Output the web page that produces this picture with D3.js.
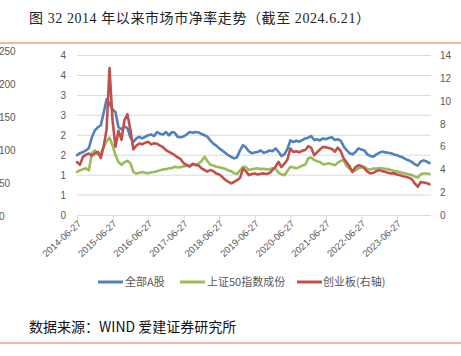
<!DOCTYPE html>
<html><head><meta charset="utf-8">
<script src="https://cdn.jsdelivr.net/npm/d3@7"></script>
<style>
html,body{margin:0;padding:0;background:#fff;}
svg{display:block;}
</style></head>
<body>
<svg id="c" width="461" height="356"></svg>
<script>
// ---- data (monthly readings, starting 2014-06-27) ----
const startDate = "2014-06-27";
const endDate = "2024-06-21";
const xTickLabels = ["2014-06-27","2015-06-27","2016-06-27","2017-06-27","2018-06-27","2019-06-27","2020-06-27","2021-06-27","2022-06-27","2023-06-27"];
const seriesNames = ["全部A股","上证50指数成份","创业板(右轴)"];
const allA = [1.50,1.55,1.58,1.62,1.68,1.95,2.12,2.20,2.25,2.55,2.90,2.80,2.65,2.58,2.20,2.15,2.22,2.18,1.95,1.83,
  1.92,1.96,1.92,1.96,2.00,2.02,1.98,2.08,2.04,2.02,2.08,2.00,2.08,2.06,1.96,1.95,1.97,2.02,2.08,2.06,
  2.08,2.07,2.03,2.00,1.96,1.87,1.79,1.74,1.67,1.62,1.56,1.50,1.46,1.42,1.45,1.62,1.75,1.70,1.60,1.55,
  1.57,1.58,1.62,1.56,1.58,1.62,1.60,1.67,1.58,1.48,1.52,1.65,1.87,1.83,1.86,1.84,1.88,1.92,1.94,1.98,
  1.88,1.90,1.87,1.92,1.90,1.93,1.95,1.88,1.90,1.86,1.72,1.62,1.55,1.52,1.58,1.67,1.64,1.62,1.52,1.48,
  1.46,1.52,1.56,1.59,1.57,1.56,1.55,1.52,1.50,1.47,1.44,1.40,1.37,1.33,1.27,1.24,1.34,1.37,1.34,1.30];
const sse50 = [1.08,1.12,1.15,1.17,1.12,1.55,1.62,1.52,1.55,1.70,1.85,1.94,1.75,1.50,1.33,1.26,1.32,1.36,1.30,1.08,
  1.04,1.06,1.08,1.06,1.05,1.07,1.08,1.10,1.12,1.14,1.15,1.17,1.18,1.21,1.19,1.20,1.22,1.23,1.24,1.26,
  1.25,1.29,1.35,1.46,1.35,1.26,1.24,1.21,1.20,1.18,1.16,1.12,1.10,1.05,1.03,1.12,1.21,1.20,1.13,1.15,
  1.16,1.17,1.15,1.16,1.14,1.15,1.17,1.16,1.06,1.02,1.00,1.10,1.21,1.19,1.17,1.20,1.24,1.26,1.42,1.44,
  1.38,1.35,1.33,1.27,1.28,1.30,1.27,1.25,1.31,1.36,1.37,1.22,1.16,1.08,1.12,1.17,1.19,1.21,1.15,1.14,
  1.17,1.16,1.18,1.17,1.16,1.15,1.13,1.10,1.09,1.08,1.05,1.04,1.02,1.00,0.96,0.94,1.02,1.04,1.04,1.03];
const chinext = [4.65,4.40,5.10,5.30,5.40,5.20,5.40,5.55,5.00,6.00,7.50,12.9,8.30,6.00,7.40,6.60,8.30,8.85,7.50,5.75,
  6.10,6.27,6.20,6.35,6.42,6.20,6.30,6.25,6.10,5.95,5.70,5.54,5.40,5.25,5.05,4.90,4.55,4.40,4.25,4.50,
  4.40,4.35,4.10,3.95,3.80,3.95,3.85,3.65,3.55,3.35,3.10,2.92,2.78,2.90,3.06,3.25,4.08,3.85,3.50,3.60,
  3.65,3.55,3.62,3.65,3.60,3.70,3.95,4.25,4.66,4.20,4.50,4.85,5.83,5.54,5.60,5.50,5.65,5.70,6.04,5.90,
  5.25,5.50,5.75,5.98,5.95,5.88,5.80,5.55,5.92,5.60,4.96,4.60,4.23,3.79,4.20,4.37,4.30,4.10,3.80,3.65,
  3.70,3.85,3.94,3.85,3.80,3.70,3.65,3.66,3.55,3.50,3.40,3.35,3.28,3.15,2.77,2.48,2.90,2.85,2.80,2.70];
const leftTicks = [0,0.5,1,1.5,2,2.5,3,3.5,4];
const rightTicks = [0,2,4,6,8,10,12,14];
const ghostTicks = [0,50,100,150,200,250];
const colors = ["#4F81BD","#9BBB59","#C0504D"];

// ---- drawing ----
const svg = d3.select("#c");
const parse = d3.timeParse("%Y-%m-%d");
const t0 = parse(startDate), t1 = parse(endDate);
const dates = allA.map((_, i) => d3.timeMonth.offset(t0, i));

const x = d3.scaleTime().domain([t0, t1]).range([77, 432]);
const yL = d3.scaleLinear().domain([0, 4]).range([215, 55.5]);
const yR = d3.scaleLinear().domain([0, 14]).range([215, 55.5]);
const yG = d3.scaleLinear().domain([0, 250]).range([216.5, 51.5]);

const axisFont = "'Liberation Sans', Arial, sans-serif";
const cjk = "'Noto Sans CJK SC', sans-serif";
const grey = "#595959";

// header / footer rules
svg.append("line").attr("x1",0).attr("x2",461).attr("y1",43).attr("y2",43)
  .attr("stroke","#EFA27E").attr("stroke-width",1.5);
svg.append("line").attr("x1",0).attr("x2",461).attr("y1",343).attr("y2",343)
  .attr("stroke","#EFA27E").attr("stroke-width",1.5);

svg.append("text").attr("x",29).attr("y",23)
  .attr("font-family","'Liberation Serif', 'Noto Sans CJK SC', serif").attr("font-size",14).attr("fill","#222")
  .attr("textLength",341).attr("lengthAdjust","spacing")
  .text("图 32 2014 年以来市场市净率走势（截至 2024.6.21）");

svg.append("text").attr("x",29).attr("y",331.5)
  .attr("font-family",cjk).attr("font-size",14).attr("fill","#111")
  .text("数据来源：WIND 爱建证券研究所");

// ghost axis on far left
svg.append("g").selectAll("text").data(ghostTicks).join("text")
  .attr("x",-1).attr("y",d=>yG(d)).attr("dy","0.35em")
  .attr("font-family",axisFont).attr("font-size",10).attr("fill",grey)
  .text(d=>d);

// gridlines
svg.append("g").selectAll("line").data(leftTicks.slice(1)).join("line")
  .attr("x1",77).attr("x2",431).attr("y1",d=>yL(d)).attr("y2",d=>yL(d))
  .attr("stroke","#D9D9D9").attr("stroke-width",1);

// left axis
const gL = svg.append("g").attr("transform","translate(69,0)")
  .call(d3.axisLeft(yL).tickValues(leftTicks).tickSize(0).tickPadding(3).tickFormat(d=>Math.round(d)));
gL.select(".domain").remove();
gL.selectAll("text").attr("font-family",axisFont).attr("font-size",10).attr("fill",grey);

// right axis
const gR = svg.append("g").attr("transform","translate(437,0)")
  .call(d3.axisRight(yR).tickValues(rightTicks).tickSize(0).tickPadding(3));
gR.select(".domain").remove();
gR.selectAll("text").attr("font-family",axisFont).attr("font-size",10).attr("fill",grey);

// x axis
const gX = svg.append("g").attr("transform","translate(0,215)")
  .call(d3.axisBottom(x).tickValues(xTickLabels.map(parse)).tickSize(5).tickPadding(4)
    .tickFormat(d3.timeFormat("%Y-%m-%d")));
gX.select(".domain").attr("d","M77,0.5H431").attr("stroke","#D9D9D9");
gX.selectAll(".tick line").attr("stroke","#D9D9D9");
gX.selectAll("text").attr("font-family",axisFont).attr("font-size",9.5).attr("fill",grey)
  .attr("text-anchor","end").attr("dy","0.35em")
  .attr("transform","translate(2,7) rotate(-43)").attr("y",0).attr("x",0);

// series
const lineL = d3.line().x((d,i)=>x(dates[i])).y(d=>yL(d));
const lineR = d3.line().x((d,i)=>x(dates[i])).y(d=>yR(d));
[[allA,lineL,colors[0]],[sse50,lineL,colors[1]],[chinext,lineR,colors[2]]].forEach(([vals,gen,c])=>{
  svg.append("path").attr("d",gen(vals)).attr("fill","none").attr("stroke",c)
    .attr("stroke-width",2.6).attr("stroke-linejoin","round").attr("stroke-linecap","round");
});

// legend
const legX = [[98,125],[180,207],[297,323]];
seriesNames.forEach((n,i)=>{
  svg.append("line").attr("x1",legX[i][0]).attr("x2",legX[i][0]+25).attr("y1",282).attr("y2",282)
    .attr("stroke",colors[i]).attr("stroke-width",3);
  svg.append("text").attr("x",legX[i][1]).attr("y",282).attr("dy","0.36em")
    .attr("font-family",cjk).attr("font-size",11).attr("fill",grey).text(n);
});
</script>
</body></html>
